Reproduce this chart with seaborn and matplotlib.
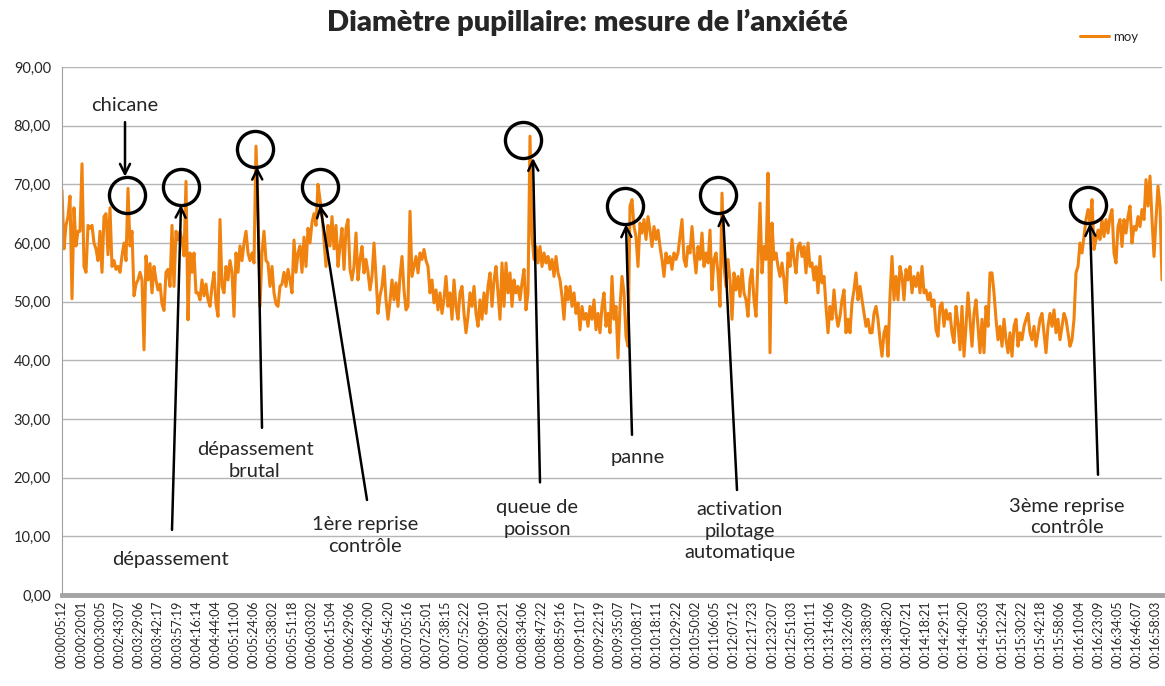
import numpy as np
import pandas as pd
import matplotlib
matplotlib.use("Agg")
import matplotlib.pyplot as plt
import seaborn as sns

# ---- valeurs (moyenne du diamètre pupillaire) ----
moy_debut = [69, 59, 63, 64.5, 68, 50.5, 66, 59.5, 62, 62, 73.5, 56, 55, 63, 62.5, 63, 60, 59, 57, 62,
             55, 64.5, 65, 58, 66, 56, 57, 55.5, 56, 55, 57.8, 60, 57, 69.3, 59.5, 62, 51, 53, 53.7, 55,
             53.7, 41.8, 57.8, 53.7, 56.5, 51.5, 56, 53.7, 52, 53, 49.6, 48.5, 55, 55.5, 52.6, 63, 52.6, 62,
             60.5, 62, 60.5, 57.8, 70.5, 46.9]
moy_brutal = [58.3, 55, 58.3, 51.5, 51.5, 50.3, 53.7, 51, 53, 50.3, 49.2, 52.6, 55, 49.6, 47.5, 64, 52.6,
              51.5, 56, 53.7, 57, 55, 47.5, 58.3, 55, 59.5, 57, 60, 62, 58.3, 57, 58.3, 56.6, 76.5, 66, 49.2,
              58.3, 62, 57, 56.6, 52.6, 56, 51.5, 49.6, 49.2, 52.6, 53, 55, 52.6, 55.5, 53.7, 51.5, 60.5, 55,
              58.3, 59.5, 55, 61, 56, 62.5, 60, 63.5, 65, 63, 70, 67.4, 65, 60.5, 56, 63, 59.5, 64.5, 59,
              63, 56, 59.5, 62.5, 55.5, 62.5, 64, 55.5, 53.7]
moy_milieu = [56, 61.7, 53.7, 57.2, 59.4, 54.9, 57.2, 55, 52, 54.3, 60, 54.3, 48, 51, 52.6, 56, 50.3, 47, 50,
              53.7, 50.3, 53.2, 49.2, 54.3, 57.7, 52, 48.6, 49.2, 65.4, 54.3, 56, 57.7, 54.9, 58.3, 57.2,
              58.9, 57, 56, 51.5, 53.7, 49.8, 52, 48.6, 51.5, 48, 50.5, 54.3, 49.2, 51.5, 47, 53.7, 49.2, 47,
              51.5, 52.6, 48, 44.7, 47.5, 51.5, 49.2, 52.6, 48, 45.8, 50.3, 47, 51.5, 48, 52.6, 54.9, 49.2,
              53.7, 56, 51.5, 47, 56.6, 49.2,
              56.6, 51.5, 54.9, 49.2, 53.7, 51.5, 52.6, 50.3, 53.2, 55.5, 48.6, 51.5, 78.2]
moy_panne = [61.1, 57.2, 59.4, 56.6, 59.4, 56, 58.3, 56.6, 57.7, 55.5, 57.2, 54.3, 57.7, 54.9, 53.7, 50.9,
             47, 52.6, 50.3, 52.6, 49.2, 51.5, 48, 49.8, 45.2, 49.2, 47, 48, 45.8, 49.2, 47, 50.3, 45.2, 48,
             44.7, 49.2, 51.5, 45.8, 48, 44.7, 54.3, 47, 49.2, 40.4, 49.2, 54.3, 51.5, 44.1, 42.4, 66.3, 67.4,
             62.8, 61.1, 56, 63.4, 61.7, 64, 60.6, 64.5, 62.2, 59.4, 62.8, 60.6, 62.2, 59.4, 57.2, 54.3, 58.3,
             56.6, 57.7, 55.5, 58.3, 57.2, 58.3, 61.1, 64, 57.2, 56, 59.4, 58.3, 62.8, 58.3, 54.9, 59.4, 57.2,
             61.7, 56, 58.3, 56.6, 62.2, 52, 57.2, 58.3, 54.9, 49.2, 68.5]
moy_pilote = [56, 52.6, 57.2, 53.7, 47, 54.9, 52, 54.3, 50.9, 55.5, 51.5, 50.3, 47.5, 53.7, 55.5, 50.3, 47.5,
              57.2, 66.8, 54.9, 59.4, 57.2, 71.9, 41.3, 63.4, 57.2, 58.3, 56, 54.3, 56.6, 53.7, 49.8, 58.3,
              56, 60.6, 57.2, 54.9, 59.4, 60, 57.7, 59.4, 54.9, 60, 56, 56.6, 53.7, 56, 51.5, 57.7, 53.2,
              54.3, 49.2, 44.7, 49.2, 47, 52, 48, 45.8, 47.5, 50.3, 52, 44.7, 47, 44.7, 49.8, 52, 54.9, 50.3,
              52.6, 50.3, 48, 45.8, 47, 44.7, 44.7, 48, 49.2, 47, 43.5, 40.7, 44.7, 45.8, 40.7, 50.9, 57.7,
              50.3, 54.3, 50.3, 56, 54.3, 50.3, 55.5, 53.7, 56, 51.5, 54.3, 52.6, 54.9, 51.5, 56, 51.5, 52,
              50.3, 51.5, 49.2, 50.3, 45.2, 44.1, 49.2, 49.8]
moy_fin = [45.8, 48.6, 47, 48, 44.7, 43, 49.2, 46.3, 41.8, 49.2, 40.7, 45.8, 51.5, 47, 42.4, 48, 50.3, 45.8,
           41.3, 47, 41.3, 49.2, 45.8, 54.9, 54.9, 51.5, 47, 43.5, 45.8, 42.4, 47, 43.5, 41.3, 44.7, 40.7,
           45.8, 47, 42.4, 44.7, 43.5, 45.8, 47, 48, 44.7, 43.5, 45.8, 42.4, 44.7, 47, 48, 44.7, 41.3, 45.8,
           48, 45.8, 48.6, 44.7, 47, 43.5, 45.8, 48, 47, 44.7, 42.4, 43.5, 47, 54.9, 56, 60, 58.3, 61.1, 64,
           65.7, 63.4, 67.4, 58.9, 60.6, 62.2, 60.6, 64, 61.1, 64, 61.7, 64.5, 65.7, 58.3, 56.6, 62.8, 64,
           59.4, 64, 61.7, 64.5, 66.3, 60, 62.8, 62.2, 64.5, 62.8, 65.7, 64, 70.8, 66.3, 71.4, 64, 57.7, 64,
           69.7, 66.3, 53.7]

temps = ["00:00:05:12", "00:00:20:01", "00:00:30:05", "00:02:43:07", "00:03:29:06", "00:03:42:17",
         "00:03:57:19", "00:04:16:14", "00:04:44:04", "00:05:11:00", "00:05:24:06", "00:05:38:02",
         "00:05:51:18", "00:06:03:02", "00:06:15:04", "00:06:29:06", "00:06:42:00", "00:06:54:20",
         "00:07:05:16", "00:07:25:01", "00:07:38:15", "00:07:52:22", "00:08:09:10", "00:08:20:21",
         "00:08:34:06", "00:08:47:22", "00:08:59:16", "00:09:10:17", "00:09:22:19", "00:09:35:07",
         "00:10:08:17", "00:10:18:11", "00:10:29:22", "00:10:50:02", "00:11:06:05", "00:12:07:12",
         "00:12:17:23", "00:12:32:07", "00:12:51:03", "00:13:01:11", "00:13:14:06", "00:13:26:09",
         "00:13:38:09", "00:13:48:20", "00:14:07:21", "00:14:18:21", "00:14:29:11", "00:14:40:20",
         "00:14:56:03", "00:15:12:24", "00:15:30:22", "00:15:42:18", "00:15:58:06", "00:16:10:04",
         "00:16:23:09", "00:16:34:05", "00:16:46:07", "00:16:58:03"]

# événements : texte, cercle (indice, valeur), flèche (départ -> pointe), position du texte
evenements = [
    ("chicane", (32.5, 68.2), (31.5, 80.6), (31.5, 71.3), (31.5, 83.5)),
    ("dépassement", (59.5, 69.5), (55, 11.1), (59.5, 66.5), (54, 6.0)),
    ("dépassement\nbrutal", (96.5, 76.0), (100, 28.5), (97.5, 73.0), (96.5, 23.0)),
    ("1ère reprise\ncontrôle", (129, 69.5), (152.5, 16.2), (129, 66.5), (151.5, 10.2)),
    ("queue de\npoisson", (230.5, 77.6), (239, 19.2), (235.5, 74.5), (237.5, 13.1)),
    ("panne", (281.5, 66.3), (285, 27.3), (282, 63.2), (288, 23.4)),
    ("activation\npilotage\nautomatique", (328, 68.2), (337.5, 17.9), (330.5, 65.1), (339, 10.9)),
    ("3ème reprise\ncontrôle", (513, 66.5), (518, 20.5), (514, 63.4), (502.5, 13.3)),
]

ORANGE = "#F0820F"

moy = np.concatenate([moy_debut, moy_brutal, moy_milieu, moy_panne, moy_pilote, moy_fin])
df = pd.DataFrame({"i": np.arange(len(moy)), "moy": moy})

sns.set_style("white")
plt.rcParams['font.family'] = ['Lato', 'DejaVu Sans']

fig = plt.figure(figsize=(11.65, 6.86), dpi=100)
ax = fig.add_axes([62 / 1165, 91 / 686, 1100 / 1165, 528 / 686])

sns.lineplot(data=df, x="i", y="moy", color=ORANGE, linewidth=2.2, ax=ax, legend=False)
ligne = ax.get_lines()[0]

ax.set_xlim(0, len(moy) - 1)
ax.set_ylim(0, 90)
yt = np.arange(0, 91, 10)
ax.set_yticks(yt)
ax.set_yticklabels([f"{v:.2f}".replace(".", ",") for v in yt])
xt = np.linspace(0, (len(moy) - 1) * 1094 / 1100, len(temps))
ax.set_xticks(xt)
ax.set_xticklabels(temps, rotation=90)
ax.set_xlabel("")
ax.set_ylabel("")

ax.yaxis.grid(True, color="#b5b5b5", lw=1)
ax.set_axisbelow(True)
for s in ["top", "right"]:
    ax.spines[s].set_visible(False)
ax.spines["left"].set_color("#a0a0a0")
ax.spines["bottom"].set_color("#a3a3a3")
ax.spines["bottom"].set_linewidth(3.5)
ax.tick_params(axis="y", length=5, color="#a0a0a0", labelsize=10.5, pad=3)
ax.tick_params(axis="x", length=0, labelsize=9, pad=4)

for txt, cercle, depart, pointe, pos in evenements:
    ax.plot(*cercle, marker="o", ms=26, mfc="none", mec="black", mew=2.4)
    ax.annotate("", xy=pointe, xytext=depart,
                arrowprops=dict(arrowstyle="->", lw=1.8, color="black", mutation_scale=18,
                                shrinkA=0, shrinkB=0))
    ax.text(pos[0], pos[1], txt, ha="center", va="center", fontsize=14.5, linespacing=1.35)

fig.text(587 / 1165, 1 - 22 / 686, "Diamètre pupillaire: mesure de l’anxiété",
         ha="center", va="center", fontsize=21, fontweight="heavy")

ax.legend(handles=[ligne], labels=["moy"], loc="center left", frameon=False,
          bbox_to_anchor=(1080 / 1165, 1 - 37 / 686), bbox_transform=fig.transFigure,
          fontsize=9.5, handlelength=2.2, handletextpad=0.3, borderpad=0, borderaxespad=0)

fig.savefig("out.png", dpi=100)
